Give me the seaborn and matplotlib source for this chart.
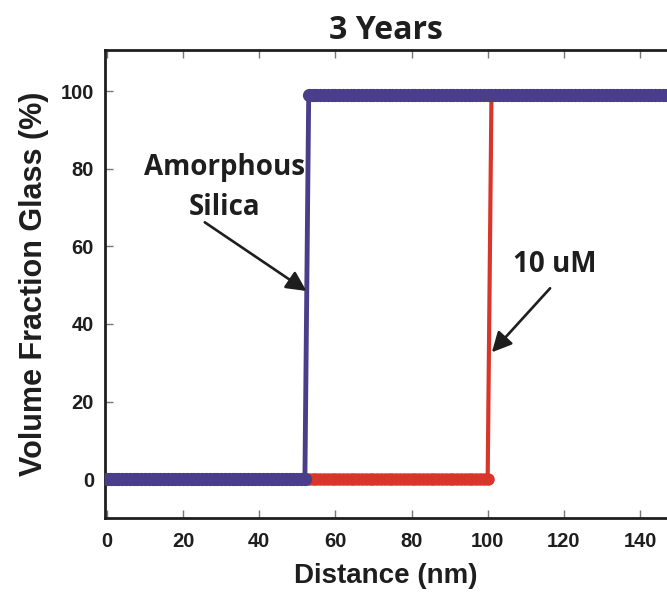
import matplotlib
matplotlib.use("Agg")
import pandas as pd
import seaborn as sns
from matplotlib import pyplot as plt

sns.set_theme(style="white")
plt.rcParams["font.family"] = ["Liberation Sans", "DejaVu Sans"]
plt.rcParams["font.weight"] = "bold"

# distance grid (nm), one point per nm as in the original
distance = list(range(0, 151))

# volume fraction glass (%)
amorphous_silica = [0.0] * 53 + [99.0] * 98
uM_10 = [0.0] * 101 + [99.0] * 50

x_ticks = [0, 20, 40, 60, 80, 100, 120, 140]
y_ticks = [0, 20, 40, 60, 80, 100]

blue = "#4a3e8b"
red = "#d9362b"
ink = "#1e1e1e"

df = pd.DataFrame(
    {"Distance": distance, "silica": amorphous_silica, "uM10": uM_10}
)

fig = plt.figure(figsize=(6.67, 5.92), dpi=100)
ax = fig.add_axes([105 / 667, 1 - 518 / 592, 1 - 105 / 667, (518 - 50) / 592])

sns.lineplot(
    data=df, x="Distance", y="uM10", ax=ax, color=red, linewidth=3,
    marker="o", markersize=9, markeredgewidth=0, zorder=2,
)
sns.lineplot(
    data=df, x="Distance", y="silica", ax=ax, color=blue, linewidth=3.5,
    marker="o", markersize=9.5, markeredgewidth=0, zorder=3,
)

ax.set_xlim(-0.5, 147.1)
ax.set_ylim(-10, 110.6)
ax.set_xticks(x_ticks)
ax.set_yticks(y_ticks)
ax.tick_params(axis="both", direction="in", length=6, width=1, color="#777777",
               labelsize=14.5, pad=8, top=True, bottom=True, left=True)
ax.tick_params(axis="x", pad=10)
for lab in ax.get_xticklabels() + ax.get_yticklabels():
    lab.set_fontweight("bold")
    lab.set_color(ink)

for side in ["left", "bottom", "top"]:
    ax.spines[side].set_linewidth(2)
    ax.spines[side].set_color(ink)
ax.spines["right"].set_visible(False)

ax.set_xlabel("Distance (nm)", fontsize=20, fontweight="bold", color=ink, labelpad=9)
ax.set_ylabel("Volume Fraction Glass (%)", fontsize=22, fontweight="bold", color=ink, labelpad=8)
ax.set_title("3 Years", fontsize=23, fontweight="bold", color=ink, pad=8,
             family=["Open Sans", "DejaVu Sans"])

note = dict(ha="center", va="center", fontsize=20, fontweight="bold", color=ink,
            family=["Open Sans", "DejaVu Sans"])
arrow = dict(arrowstyle="-|>", color=ink, lw=1.9, mutation_scale=30,
             shrinkA=0, shrinkB=0)

ax.text(31, 80.2, "Amorphous", **note)
ax.text(31, 70.1, "Silica", **note)
ax.annotate("", xy=(52.4, 48.5), xytext=(25.7, 66.2), arrowprops=arrow)

ax.text(117.7, 55.2, "10 uM", **note)
ax.annotate("", xy=(101.1, 32.7), xytext=(116.4, 49.2), arrowprops=arrow)

plt.savefig("out.png", dpi=100)
